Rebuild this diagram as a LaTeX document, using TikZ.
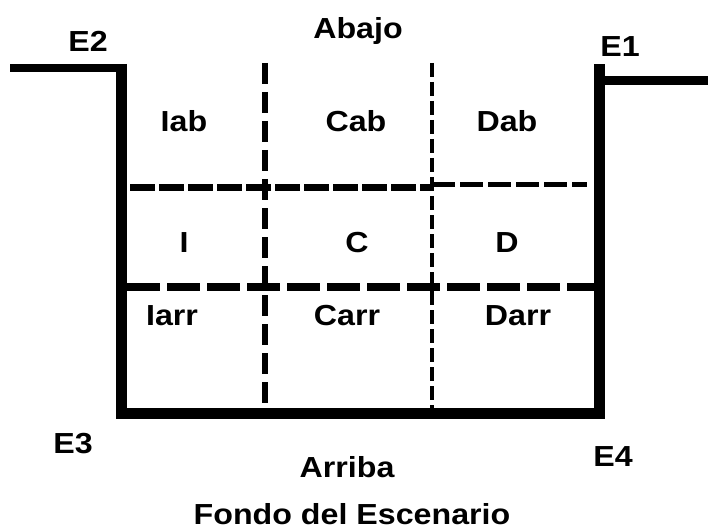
\documentclass[tikz,border=0pt]{standalone}
\usepackage{fontspec}
\setmainfont[FakeStretch=1.11]{Liberation Sans}
\begin{document}
\begin{tikzpicture}[x=1pt,y=-1pt,
  lbl/.style={anchor=base,inner sep=0pt,font=\fontsize{29}{34}\selectfont\bfseries},
  wall/.style={line width=11pt,line join=miter}]
\useasboundingbox (0,0) rectangle (708,529);

% escenario
\draw[wall] (121,64) -- (121,413.5) -- (599.5,413.5) -- (599.5,64);
\draw[line width=8pt] (10,68) -- (126,68);
\draw[line width=9pt] (605,81) -- (708,81);

% divisiones
\draw[line width=6pt,dash pattern=on 21pt off 8pt] (265,63) -- (265,408);
\draw[line width=4pt,dash pattern=on 14pt off 5pt] (432,63) -- (432,408);
\draw[line width=7pt,dash pattern=on 25pt off 4pt] (130,188) -- (432,188);
\draw[line width=5pt,dash pattern=on 23pt off 5pt] (432,184.5) -- (587,184.5);
\draw[line width=8pt,dash pattern=on 33pt off 7pt] (127,287) -- (594,287);

\node[lbl] (abajo) at (358,39) {Abajo};
\node[lbl] (e2) at (88,52) {E2};
\node[lbl] (e1) at (620,57) {E1};

\node[lbl] (iab) at (184,132) {Iab};
\node[lbl] (cab) at (356,132) {Cab};
\node[lbl] (dab) at (507,132) {Dab};
\node[lbl] (i) at (184,252) {I};
\node[lbl] (c) at (357,252) {C};
\node[lbl] (d) at (507,252) {D};
\node[lbl] (iarr) at (172,325) {Iarr};
\node[lbl] (carr) at (347,325) {Carr};
\node[lbl] (darr) at (518,325) {Darr};

\node[lbl] (e3) at (73,453) {E3};
\node[lbl] (e4) at (613,466) {E4};
\node[lbl] (arriba) at (347,477) {Arriba};
\node[lbl,text depth=0pt] (fondo) at (352,524) {Fondo del Escenario};
\end{tikzpicture}
\end{document}
